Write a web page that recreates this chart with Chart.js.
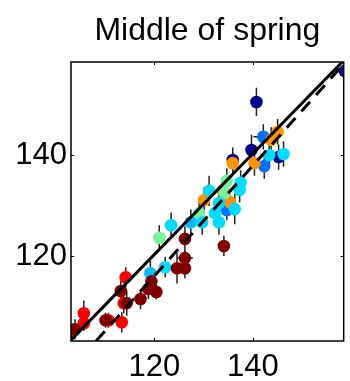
<!DOCTYPE html>
<html>
<head>
<meta charset="utf-8">
<script src="https://cdn.jsdelivr.net/npm/chart.js@4.4.0/dist/chart.umd.min.js"></script>
<style>
  html, body { margin: 0; padding: 0; background: #fff; }
</style>
</head>
<body>
<canvas id="springChart" width="350" height="381"></canvas>
<script>
// Axis limits and ticks
const xRange = [103.1, 158.4];
const yRange = [103.2, 158.4];
const xTicks = [120, 140];
const yTicks = [120, 140];

// Points per colour group: [x, y, yErr, xErr]
const darkRedPts = [
  [103.9, 105.5, 2.0], [113.2, 113.1, 2.0], [114.4, 110.7, 2.5], [110.1, 107.3, 1.5],
  [117.2, 111.5, 2.0], [118.8, 113.5, 2.0], [119.4, 115.0, 2.5], [120.4, 112.9, 1.5],
  [124.6, 117.6, 3.0], [126.2, 117.6, 2.0], [126.2, 119.6, 1.5, 1.6], [126.2, 123.4, 2.5],
  [134.1, 122.0, 2.0]
];
const redPts = [
  [103.2, 104.8, 1.5], [105.7, 108.7, 2.5], [105.7, 106.7, 1.5], [110.7, 107.3, 1.5],
  [113.4, 106.9, 2.0], [113.8, 110.7, 2.0], [114.2, 115.8, 2.0]
];
const deepSkyPts = [[119.2, 116.6, 2.5], [127.4, 126.7, 2.5]];
const cyanPts = [
  [122.2, 117.8, 2.0], [123.4, 126.1, 2.5], [129.7, 126.7, 2.5], [133.1, 126.7, 2.5],
  [132.3, 128.5, 2.5], [131.1, 132.9, 3.0], [137.5, 134.5, 2.5], [137.3, 133.1, 2.5],
  [136.3, 129.3, 3.0], [133.1, 130.5, 2.5], [143.3, 140.0, 2.5], [146.2, 140.2, 2.5]
];
const greenPts = [[121.0, 123.6, 2.5], [129.1, 128.5, 2.5], [134.7, 134.9, 2.5], [134.3, 132.5, 2.5]];
const orangePts = [
  [135.9, 138.4, 2.0], [130.1, 131.1, 2.5], [133.9, 132.9, 2.5], [135.3, 130.7, 2.5],
  [140.3, 138.4, 2.5], [143.7, 143.0, 2.5], [145.0, 144.6, 2.5]
];
const bluePts = [[134.7, 129.1, 2.0], [142.3, 137.8, 2.5], [142.1, 143.6, 2.5, 2.0]];
const navyPts = [[135.9, 139.0, 2.5], [139.7, 141.0, 3.0], [140.7, 150.5, 2.8], [145.2, 139.6, 2.5], [158.6, 156.6, 2.0]];

// Fit lines (end points)
const solidLine = [[103.1, 103.4], [158.4, 158.7]];
const dashedLine = [[108.2, 103.2], [158.4, 158.0]];

const groups = [
  { pts: darkRedPts, color: '#800000' },
  { pts: redPts, color: '#ff0000' },
  { pts: deepSkyPts, color: '#00bfff' },
  { pts: cyanPts, color: '#00dcff' },
  { pts: greenPts, color: '#76f29a' },
  { pts: orangePts, color: '#ff9400' },
  { pts: bluePts, color: '#0070ff' },
  { pts: navyPts, color: '#00008f' }
];

const toXY = arr => arr.map(p => ({ x: p[0], y: p[1], ey: p[2] || 0, ex: p[3] || 0 }));

// error bars under the markers, box with inward ticks on top
const frameAndErrors = {
  id: 'frameAndErrors',
  beforeDatasetsDraw(chart) {
    const { ctx, chartArea: a, scales: { x, y } } = chart;
    ctx.save();
    ctx.beginPath();
    ctx.rect(a.left, a.top, a.width, a.height);
    ctx.clip();
    ctx.strokeStyle = '#222';
    ctx.lineWidth = 1.5;
    chart.data.datasets.forEach(ds => {
      if (!ds.errBars) return;
      ds.data.forEach(p => {
        const px = x.getPixelForValue(p.x);
        const py = y.getPixelForValue(p.y);
        ctx.beginPath();
        if (p.ey) {
          ctx.moveTo(px, y.getPixelForValue(p.y - p.ey));
          ctx.lineTo(px, y.getPixelForValue(p.y + p.ey));
        }
        if (p.ex) {
          ctx.moveTo(x.getPixelForValue(p.x - p.ex), py);
          ctx.lineTo(x.getPixelForValue(p.x + p.ex), py);
        }
        ctx.stroke();
      });
    });
    ctx.restore();
  },
  afterDraw(chart) {
    const { ctx, chartArea: a, scales: { x, y } } = chart;
    ctx.save();
    ctx.strokeStyle = '#000';
    ctx.lineWidth = 1.5;
    ctx.strokeRect(a.left, a.top, a.width, a.height);
    ctx.lineWidth = 1;
    ctx.beginPath();
    xTicks.forEach(v => {
      const px = Math.round(x.getPixelForValue(v)) + 0.5;
      ctx.moveTo(px, a.bottom); ctx.lineTo(px, a.bottom - 3);
      ctx.moveTo(px, a.top); ctx.lineTo(px, a.top + 3);
    });
    yTicks.forEach(v => {
      const py = Math.round(y.getPixelForValue(v)) + 0.5;
      ctx.moveTo(a.left, py); ctx.lineTo(a.left + 3, py);
      ctx.moveTo(a.right, py); ctx.lineTo(a.right - 3, py);
    });
    ctx.stroke();
    ctx.restore();
  }
};

const datasets = groups.map(g => ({
  type: 'scatter',
  data: toXY(g.pts),
  errBars: true,
  pointRadius: 6.3,
  pointBackgroundColor: g.color,
  pointBorderWidth: 0,
  clip: 0,
  order: 1
}));

datasets.push({
  type: 'line',
  data: toXY(solidLine),
  borderColor: '#000',
  borderWidth: 3,
  pointRadius: 0,
  clip: 0,
  order: 0
});
datasets.push({
  type: 'line',
  data: toXY(dashedLine),
  borderColor: '#000',
  borderWidth: 3,
  borderDash: [13, 9],
  pointRadius: 0,
  clip: 0,
  order: 0
});

const tickFont = { family: '"Liberation Sans", Arial, Helvetica, sans-serif', size: 31 };

new Chart(document.getElementById('springChart'), {
  type: 'scatter',
  data: { datasets },
  options: {
    responsive: false,
    animation: false,
    devicePixelRatio: 1,
    layout: { padding: { right: 1, left: 0, bottom: 0 } },
    scales: {
      x: {
        type: 'linear',
        min: xRange[0],
        max: xRange[1],
        afterBuildTicks: s => { s.ticks = xTicks.map(v => ({ value: v })); },
        afterFit: s => { s.height = 40; },
        grid: { display: false, drawTicks: false },
        border: { display: false },
        ticks: { font: tickFont, color: '#000', padding: 8 }
      },
      y: {
        type: 'linear',
        min: yRange[0],
        max: yRange[1],
        afterBuildTicks: s => { s.ticks = yTicks.map(v => ({ value: v })); },
        afterFit: s => { s.width = 71; },
        grid: { display: false, drawTicks: false },
        border: { display: false },
        ticks: { font: tickFont, color: '#000', padding: 4 }
      }
    },
    plugins: {
      legend: { display: false },
      tooltip: { enabled: false },
      title: {
        display: true,
        fullSize: false,
        text: 'Middle of spring',
        color: '#000',
        font: { family: '"Liberation Sans", Arial, Helvetica, sans-serif', size: 32, weight: 'normal' },
        padding: { top: 12, bottom: 11.6 }
      }
    }
  },
  plugins: [frameAndErrors]
});
</script>
</body>
</html>
